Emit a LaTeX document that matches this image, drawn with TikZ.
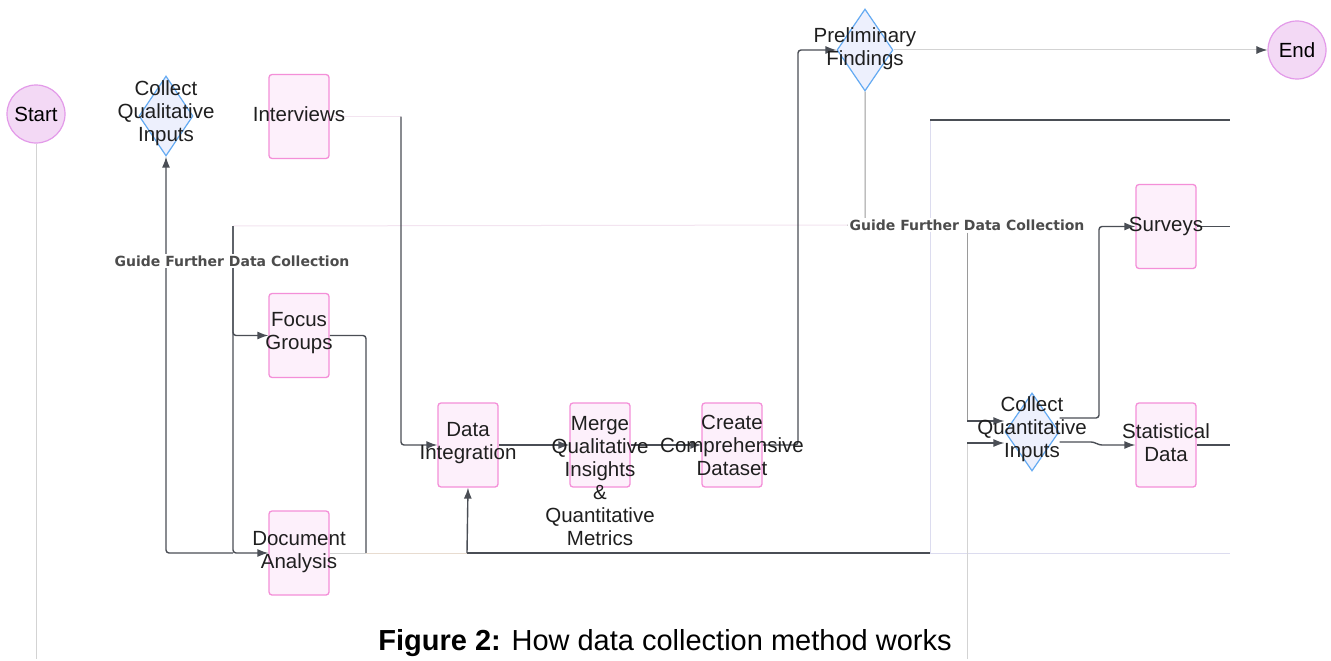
\documentclass[tikz,border=0pt]{standalone}
\usepackage{fontspec}
\setmainfont{Liberation Sans}
\newfontfamily\guidefont{DejaVu Sans}
\usetikzlibrary{shapes.geometric,arrows.meta}
\pgfdeclarelayer{bg}
\pgfsetlayers{bg,main}
\definecolor{boxfill}{HTML}{FDF0FB}
\definecolor{boxdraw}{HTML}{F48FD8}
\definecolor{circfill}{HTML}{F3D9F5}
\definecolor{circdraw}{HTML}{E39AE9}
\definecolor{diafill}{HTML}{EDF0FD}
\definecolor{diadraw}{HTML}{64AAF2}
\definecolor{edgec}{HTML}{4A4E55}
\definecolor{midgrey}{HTML}{9A9A9A}
\definecolor{faintgrey}{HTML}{D3D3D3}
\definecolor{faintpink}{HTML}{F3E4F0}
\definecolor{faintlav}{HTML}{DCDCEF}
\definecolor{fainttan}{HTML}{E8DCD0}
\begin{document}
\begin{tikzpicture}[x=1pt,y=-1pt,
  box/.style={draw=boxdraw, fill=boxfill, line width=1.3pt, rounded corners=3pt, minimum width=60pt, minimum height=84pt, inner sep=0pt},
  circ/.style={circle, draw=circdraw, fill=circfill, line width=1.2pt, minimum size=58pt, inner sep=0pt, font=\fontsize{20.5}{23}\selectfont},
  dia/.style={diamond, draw=diadraw, fill=diafill, line width=1.2pt, inner sep=0pt},
  txt/.style={align=center, font=\fontsize{20.5}{23}\selectfont, text=black!88, inner sep=0pt},
  conn/.style={draw=edgec, line width=1.4pt, rounded corners=3pt},
  arr/.style={conn, -{Latex[length=11pt,width=8pt]}},
  thin/.style={line width=1pt, rounded corners=3pt},
  darktip/.style={-{Latex[length=11pt,width=8pt,color=edgec]}},
  guide/.style={font=\guidefont\bfseries\fontsize{14}{16}\selectfont, text=black!70, fill=white, inner sep=2pt},
]
\useasboundingbox (0,0) rectangle (1331,661);

% nodes
\node[circ] (start) at (36,114) {Start};
\node[circ] (end) at (1297,50) {End};

\node[dia, minimum width=54pt, minimum height=80pt] (cql) at (166,116) {};
\node[txt] (cqlt) at (166,113) {Collect\\Qualitative\\Inputs};

\node[box] (interviews) at (299,116.5) {};
\node[txt] (interviewst) at (299,114) {Interviews};
\node[box] (focus) at (299,335.5) {};
\node[txt] (focust) at (299,333.5) {Focus\\Groups};
\node[box] (doc) at (299,553) {};
\node[txt] (doct) at (299,552.5) {Document\\Analysis};

\node[box] (di) at (468,445) {};
\node[txt] (dit) at (468,443) {Data\\Integration};
\node[box] (merge) at (600,445) {};
\node[txt] (merget) at (600,481) {Merge\\Qualitative\\Insights\\\&\\Quantitative\\Metrics};
\node[box] (create) at (732,445) {};
\node[txt] (createt) at (732,445.5) {Create\\Comprehensive\\Dataset};

\node[dia, minimum width=56pt, minimum height=82pt] (pf) at (865,50) {};
\node[txt] (pft) at (865,48.5) {Preliminary\\Findings};

\node[dia, minimum width=54pt, minimum height=78pt] (cqn) at (1032,432) {};
\node[txt] (cqnt) at (1032,429) {Collect\\Quantitative\\Inputs};

\node[box] (surveys) at (1166,226.5) {};
\node[txt] (surveyst) at (1166,226) {Surveys};
\node[box] (stat) at (1166,445) {};
\node[txt] (statt) at (1166,443) {Statistical\\Data};

\node[guide] (gl) at (232,261) {Guide Further Data Collection};
\node[guide] (gr) at (967,225) {Guide Further Data Collection};

\node[anchor=base, font=\fontsize{29}{34}\selectfont, inner sep=0pt] (cap) at (665,650) {\textbf{Figure 2:} How data collection method works};

% junction coordinates
\coordinate (sbot) at (36,659);
\coordinate (j1) at (233,226);
\coordinate (j2) at (233,553);
\coordinate (j3) at (401,116.5);
\coordinate (j4) at (366,553);
\coordinate (j5) at (467,553);
\coordinate (j6) at (930,553);
\coordinate (j7) at (930,120);
\coordinate (r1) at (1230,120);
\coordinate (r2) at (1230,553);
\coordinate (j8) at (798,50);
\coordinate (j9) at (967,443);
\coordinate (j10) at (967,421);
\coordinate (qbot) at (967,659);
\coordinate (j11) at (1099,226.5);
\coordinate (j12) at (1094,442);
\coordinate (j13) at (1099,445);
\coordinate (r3) at (1230,226.5);
\coordinate (r4) at (1230,445);

\begin{pgfonlayer}{bg}
\fill[white] (0,0) rectangle (1331,661);
% start line
\draw[faintgrey, thin] (start.south) -- (sbot);
% left feedback group
\draw[faintpink, thin] (gr.west) -- (j1);
\draw[arr] (j1) |- (focus.west);
\draw[arr] (j1) |- (doc.west);
\draw[arr] (j2) -| (cql.south);
% interviews
\draw[faintpink, thin] (interviews.east) -- (j3);
\draw[arr] (j3) |- (di.west);
% focus / document to integration
\draw[conn] (focus.east) -| (j4);
\draw[faintgrey, thin] (doc.east) -- (j4);
\draw[fainttan, thin] (j4) -- (j5);
\draw[arr] (j5) -- (di.south);
\draw[conn] (j5) -- (j6);
\draw[faintlav, thin] (j6) -- (j7);
\draw[conn] (j7) -- (r1);
\draw[faintlav, thin] (j6) -- (r2);
% main chain
\draw[arr] (di.east) -- (merge.west);
\draw[arr] (merge.east) -- (create.west);
\draw[arr] (create.east) -| (j8) -- (pf.west);
\draw[faintgrey, thin, darktip] (pf.east) -- (end.west);
% preliminary findings to guide further collection
\draw[midgrey, thin] (pf.south) |- (gr);
\draw[midgrey, thin] (gr.south) -- (j10);
\draw[arr] (j10) -- (cqn.west |- 0,421);
\draw[faintgrey, thin] (qbot) -- (j9);
\draw[arr] (j9) -- (cqn.west |- 0,443);
% quantitative branch
\draw[arr] (cqn.east |- 0,418) -| (j11) -- (surveys.west);
\draw[arr] (cqn.east |- 0,442) -- (j12) -- (j13) -- (stat.west);
\draw[conn] (surveys.east) -- (r3);
\draw[conn] (stat.east) -- (r4);
\end{pgfonlayer}
\end{tikzpicture}
\end{document}
